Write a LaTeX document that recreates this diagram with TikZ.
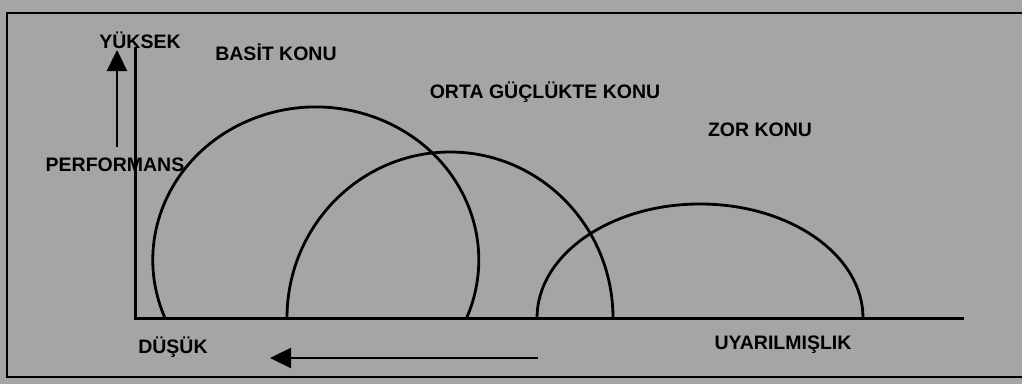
\documentclass[tikz,border=0pt]{standalone}
\usepackage{fontspec}
\setmainfont{Liberation Sans}
\usetikzlibrary{arrows.meta}
\definecolor{bggray}{RGB}{165,165,165}
\tikzset{
  lbl/.style={font=\fontsize{19.5}{20}\selectfont\bfseries, inner sep=0pt, text=black},
  axis/.style={line width=3pt, line cap=rect},
  curve/.style={line width=2.8pt},
  bigarrow/.style={line width=2.4pt, -{Triangle[length=21pt,width=20pt]}},
  frame/.style={line width=1.6pt}
}
\begin{document}
\begin{tikzpicture}[x=1pt,y=1pt]
\useasboundingbox (0,0) rectangle (1022,384);
\fill[bggray] (0,0) rectangle (1022,384);
% frame
\coordinate (fTR) at (1022,371);
\coordinate (fTL) at (7,371);
\coordinate (fBL) at (7,7);
\coordinate (fBR) at (1022,7);
\draw[frame] (fTR) -- (fTL) -- (fBL) -- (fBR);
% axes
\coordinate (O) at (135,66);
\coordinate (ytop) at (135,336);
\coordinate (xend) at (962,66);
\draw[axis] (ytop) -- (O) -- (xend);
% curves
\draw[curve] (165,66) arc[start angle=202.3, end angle=-22.3, x radius=163, y radius=153];
\draw[curve] (287,66) arc[start angle=180, end angle=0, x radius=163, y radius=166];
\draw[curve] (537,66) arc[start angle=180, end angle=0, x radius=163, y radius=114];
% arrows
\coordinate (upA) at (117,237);
\coordinate (upB) at (117,334);
\draw[bigarrow] (upA) -- (upB);
\coordinate (lfA) at (538,26);
\coordinate (lfB) at (270,26);
\draw[bigarrow] (lfA) -- (lfB);
% labels
\node[lbl] (yuksek) at (140,344) {YÜKSEK};
\node[lbl] (basit) at (276,332) {BASİT KONU};
\node[lbl] (perf) at (115,219) {PERFORMANS};
\node[lbl] (orta) at (545,292) {ORTA GÜÇLÜKTE KONU};
\node[lbl] (zor) at (760,254) {ZOR KONU};
\node[lbl] (dusuk) at (173,37) {DÜŞÜK};
\node[lbl] (uyar) at (783,39) {UYARILMIŞLIK};
\end{tikzpicture}
\end{document}
